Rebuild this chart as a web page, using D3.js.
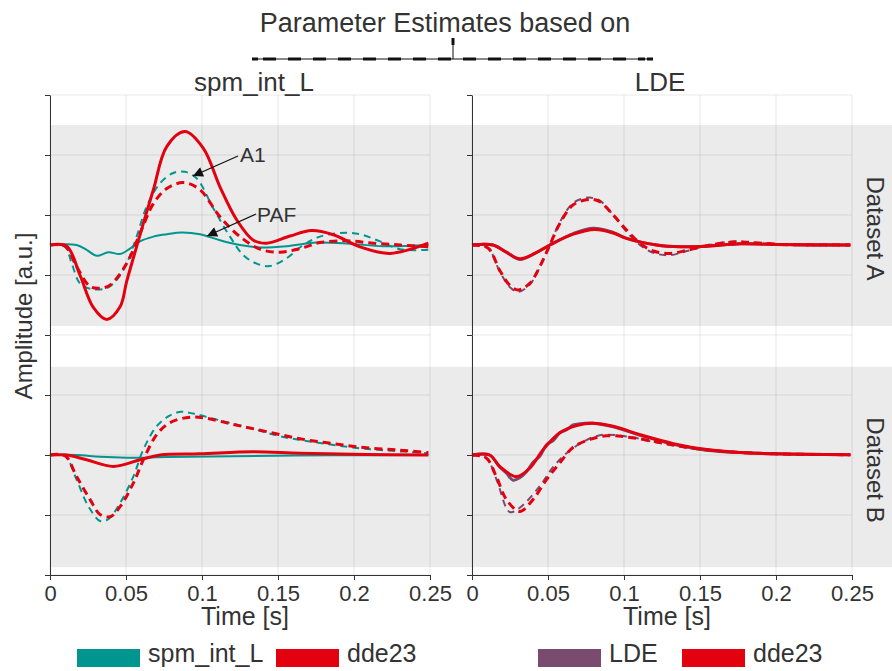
<!DOCTYPE html>
<html>
<head>
<meta charset="utf-8">
<script src="https://cdn.jsdelivr.net/npm/d3@7"></script>
<style>
  body { margin: 0; background: #fff; }
  svg { display: block; font-family: "Liberation Sans", Arial, sans-serif; }
</style>
</head>
<body>
<script>
// facets and ticks
const columns = ["spm_int_L", "LDE"];
const rows = ["Dataset A", "Dataset B"];
const timeTicks = [0, 0.05, 0.1, 0.15, 0.2, 0.25];
const ampTicksA = [-1.5, -0.5, 0.5, 1.5, 2.5];
const ampTicksB = [-2, -1, 0, 1];

// Dataset A, spm_int_L column: [time s, amplitude a.u.]
const aSpmPaf = [[0,0],[0.0175,0],[0.0241,-0.08],[0.0307,-0.18],[0.0384,-0.12],[0.0461,-0.15],[0.0526,-0.06],[0.0592,0.06],[0.068,0.14],[0.0768,0.18],[0.0866,0.21],[0.0987,0.18],[0.1118,0.08],[0.125,0],[0.1382,-0.04],[0.1557,-0.02],[0.1754,0.04],[0.1974,0.02],[0.2193,-0.02],[0.2489,0]];
const aSpmA1 = [[0,0],[0.0099,-0.03],[0.0143,-0.31],[0.0197,-0.64],[0.0263,-0.73],[0.0373,-0.72],[0.0439,-0.58],[0.0504,-0.31],[0.057,0.14],[0.0636,0.64],[0.0724,1.03],[0.0811,1.2],[0.0888,1.22],[0.0965,1.11],[0.1075,0.61],[0.1184,0.14],[0.1272,-0.17],[0.136,-0.31],[0.1447,-0.35],[0.1557,-0.22],[0.1667,0],[0.1776,0.14],[0.1908,0.2],[0.2039,0.18],[0.2171,0.06],[0.2303,-0.07],[0.2489,-0.08]];
const aSpmDdePaf = [[0,0],[0.011,-0.02],[0.0197,-0.5],[0.0285,-1.04],[0.0373,-1.24],[0.0461,-1.03],[0.0504,-0.61],[0.0548,-0.22],[0.0614,0.36],[0.068,0.92],[0.0768,1.64],[0.0888,1.89],[0.1009,1.61],[0.1118,0.97],[0.1228,0.42],[0.1338,0.08],[0.1425,0.03],[0.1579,0.15],[0.1721,0.24],[0.1864,0.17],[0.2039,-0.03],[0.2237,-0.14],[0.2489,0.03]];
const aSpmDdeA1 = [[0,0],[0.0099,-0.02],[0.0175,-0.36],[0.0263,-0.69],[0.0329,-0.72],[0.0395,-0.67],[0.0504,-0.31],[0.0592,0.19],[0.068,0.69],[0.0768,0.94],[0.0877,1.04],[0.0987,0.92],[0.1118,0.47],[0.125,0.14],[0.1382,-0.07],[0.1513,-0.12],[0.1645,-0.06],[0.1776,0.04],[0.1952,0.07],[0.2127,0.03],[0.2303,0],[0.2489,-0.03]];

// Dataset A, LDE column
const aLdePaf = [[0,0],[0.0138,0],[0.0226,-0.12],[0.0314,-0.24],[0.0413,-0.14],[0.0512,0],[0.0666,0.19],[0.0798,0.28],[0.0929,0.21],[0.1017,0.11],[0.1215,0],[0.1369,-0.03],[0.1545,-0.02],[0.1764,0.02],[0.1984,0.01],[0.2489,0]];
const aLdeA1 = [[0,0],[0.0105,-0.05],[0.0182,-0.44],[0.0248,-0.7],[0.0303,-0.78],[0.038,-0.66],[0.0446,-0.37],[0.0512,0],[0.0578,0.38],[0.0666,0.7],[0.0765,0.79],[0.0841,0.74],[0.0929,0.5],[0.1017,0.22],[0.1105,0],[0.1193,-0.13],[0.1303,-0.17],[0.1413,-0.1],[0.1545,-0.01],[0.172,0.06],[0.1852,0.04],[0.2028,0.01],[0.2204,-0.01],[0.2489,0]];
const aLdeDdePaf = [[0,0],[0.0138,0],[0.0226,-0.12],[0.0314,-0.23],[0.0413,-0.14],[0.0512,0],[0.0666,0.18],[0.0809,0.26],[0.0929,0.2],[0.1017,0.11],[0.1215,0],[0.1369,-0.03],[0.1545,-0.02],[0.1764,0.02],[0.1984,0.01],[0.2489,0]];
const aLdeDdeA1 = [[0,0],[0.0105,-0.05],[0.0182,-0.42],[0.0248,-0.67],[0.0303,-0.75],[0.038,-0.64],[0.0446,-0.36],[0.0512,0],[0.0578,0.36],[0.0666,0.67],[0.0776,0.76],[0.0841,0.72],[0.0929,0.5],[0.1017,0.25],[0.1105,0.03],[0.1193,-0.1],[0.1303,-0.14],[0.1413,-0.09],[0.1545,-0.01],[0.172,0.05],[0.1852,0.04],[0.2028,0.01],[0.2204,0],[0.2489,0]];

// Dataset B, spm_int_L column
const bSpmPaf = [[0,0],[0.0175,0],[0.0329,-0.03],[0.0504,-0.045],[0.0768,-0.035],[0.1206,-0.02],[0.1864,-0.005],[0.2489,0]];
const bSpmA1 = [[0,0],[0.0099,-0.02],[0.0175,-0.41],[0.0241,-0.8],[0.0329,-1.1],[0.0384,-1.07],[0.0461,-0.8],[0.0548,-0.36],[0.0614,0.09],[0.0702,0.48],[0.079,0.66],[0.0866,0.72],[0.0943,0.69],[0.1097,0.59],[0.1316,0.45],[0.1535,0.3],[0.1754,0.21],[0.1974,0.13],[0.2193,0.08],[0.2489,0.03]];
const bSpmDdePaf = [[0,0],[0.011,0],[0.0241,-0.08],[0.0417,-0.19],[0.0592,-0.08],[0.0724,0],[0.0987,0.02],[0.1338,0.055],[0.1645,0.03],[0.2083,0.01],[0.2489,0]];
const bSpmDdeA1 = [[0,0],[0.0099,-0.01],[0.0175,-0.36],[0.0263,-0.74],[0.0329,-0.99],[0.0395,-1.03],[0.0461,-0.86],[0.0548,-0.47],[0.0614,-0.08],[0.0702,0.34],[0.079,0.54],[0.0921,0.63],[0.1031,0.61],[0.1206,0.51],[0.1425,0.39],[0.1645,0.27],[0.1864,0.19],[0.2083,0.12],[0.2303,0.08],[0.2489,0.04]];

// Dataset B, LDE column
const bLdePaf = [[0,0],[0.0116,0],[0.0182,-0.2],[0.0226,-0.3],[0.027,-0.42],[0.0314,-0.38],[0.0358,-0.28],[0.0402,-0.12],[0.0446,-0.02],[0.049,0.17],[0.0534,0.24],[0.0578,0.37],[0.0622,0.42],[0.0666,0.5],[0.071,0.52],[0.0798,0.53],[0.0929,0.47],[0.1105,0.33],[0.1325,0.18],[0.1545,0.08],[0.1764,0.04],[0.1984,0.02],[0.2489,0.005]];
const bLdeA1 = [[0,0],[0.0094,-0.05],[0.016,-0.4],[0.0248,-0.95],[0.0314,-0.88],[0.0446,-0.52],[0.0534,-0.2],[0.0622,0.03],[0.0732,0.22],[0.0841,0.33],[0.1017,0.31],[0.1193,0.22],[0.1413,0.12],[0.1655,0.05],[0.1984,0.02],[0.2489,0.005]];
const bLdeDdePaf = [[0,0],[0.0116,0],[0.0182,-0.19],[0.0292,-0.36],[0.038,-0.22],[0.0468,0.09],[0.0578,0.37],[0.0688,0.49],[0.0797,0.53],[0.0929,0.48],[0.1105,0.34],[0.1325,0.19],[0.1545,0.09],[0.1764,0.04],[0.1984,0.02],[0.2489,0.005]];
const bLdeDdeA1 = [[0,0],[0.0094,-0.05],[0.016,-0.36],[0.0226,-0.74],[0.0314,-0.94],[0.0402,-0.74],[0.049,-0.41],[0.0578,-0.13],[0.0666,0.13],[0.0776,0.26],[0.0885,0.32],[0.1017,0.3],[0.1193,0.23],[0.1413,0.13],[0.1655,0.06],[0.1984,0.02],[0.2489,0.005]];

// grey strip extent for each row, in amplitude units
const bandA = [-1.35, 2];
const bandB = [-1.87, 1.47];

const colors = { spm: "#00958f", dde: "#e3000f", lde: "#7b4a6f" };
const width = 892, height = 671;
const ink = "#333";

const svg = d3.select("body").append("svg")
  .attr("width", width)
  .attr("height", height);

const xL = d3.scaleLinear().domain([0, 0.25]).range([50, 430]);
const xR = d3.scaleLinear().domain([0, 0.25]).range([472, 852]);
const yA = d3.scaleLinear().domain([-1.5, 2.5]).range([335, 95]);
const yB = d3.scaleLinear().domain([-2, 2]).range([575, 335]);

// grey row strips
svg.append("rect")
  .attr("x", xL(0)).attr("width", width - xL(0))
  .attr("y", yA(bandA[1])).attr("height", yA(bandA[0]) - yA(bandA[1]))
  .attr("fill", "#ebebeb");
svg.append("rect")
  .attr("x", xL(0)).attr("width", width - xL(0))
  .attr("y", yB(bandB[1])).attr("height", yB(bandB[0]) - yB(bandB[1]))
  .attr("fill", "#ebebeb");

// gridlines
const grid = svg.append("g").attr("stroke", "#000").attr("stroke-opacity", 0.09).attr("stroke-width", 1);
for (const x of [xL, xR]) {
  grid.selectAll(null).data(timeTicks).join("line")
    .attr("x1", d => x(d)).attr("x2", d => x(d))
    .attr("y1", yA.range()[1]).attr("y2", yB.range()[0]);
  for (const [y, t] of [[yA, ampTicksA], [yB, ampTicksB]]) {
    grid.selectAll(null).data(t).join("line")
      .attr("x1", x.range()[0]).attr("x2", x.range()[1])
      .attr("y1", d => y(d)).attr("y2", d => y(d));
  }
}

const panels = [
  { x: xL, y: yA, series: [
    { data: aSpmPaf, color: colors.spm, w: 2, dash: null },
    { data: aSpmA1, color: colors.spm, w: 2, dash: "7,5" },
    { data: aSpmDdeA1, color: colors.dde, w: 3, dash: "8,5" },
    { data: aSpmDdePaf, color: colors.dde, w: 3, dash: null } ] },
  { x: xR, y: yA, series: [
    { data: aLdePaf, color: colors.lde, w: 3, dash: null },
    { data: aLdeA1, color: colors.lde, w: 2, dash: "7,5" },
    { data: aLdeDdeA1, color: colors.dde, w: 3, dash: "8,5" },
    { data: aLdeDdePaf, color: colors.dde, w: 3, dash: null } ] },
  { x: xL, y: yB, series: [
    { data: bSpmPaf, color: colors.spm, w: 2, dash: null },
    { data: bSpmA1, color: colors.spm, w: 2, dash: "7,5" },
    { data: bSpmDdeA1, color: colors.dde, w: 3, dash: "8,5" },
    { data: bSpmDdePaf, color: colors.dde, w: 3, dash: null } ] },
  { x: xR, y: yB, series: [
    { data: bLdePaf, color: colors.lde, w: 3, dash: null },
    { data: bLdeA1, color: colors.lde, w: 2, dash: "7,5" },
    { data: bLdeDdeA1, color: colors.dde, w: 3, dash: "8,5" },
    { data: bLdeDdePaf, color: colors.dde, w: 3, dash: null } ] }
];

for (const p of panels) {
  const line = d3.line()
    .x(d => p.x(d[0]))
    .y(d => p.y(d[1]))
    .curve(d3.curveCatmullRom.alpha(0.5));
  svg.append("g").attr("fill", "none")
    .selectAll("path")
    .data(p.series)
    .join("path")
      .attr("d", d => line(d.data))
      .attr("stroke", d => d.color)
      .attr("stroke-width", d => d.w)
      .attr("stroke-dasharray", d => d.dash);
}

// axes
const fmt = d => String(+d.toFixed(2));
for (const x of [xL, xR]) {
  for (const [y, t] of [[yA, ampTicksA], [yB, ampTicksB]]) {
    const g = svg.append("g").attr("transform", `translate(${x.range()[0]},0)`)
      .call(d3.axisLeft(y).tickValues(t).tickFormat("").tickSize(5).tickSizeOuter(0));
    g.selectAll("path,line").attr("stroke", ink);
  }
  const gx = svg.append("g").attr("transform", `translate(0,${yB.range()[0]})`)
    .call(d3.axisBottom(x).tickValues(timeTicks).tickFormat(fmt).tickSize(5).tickSizeOuter(0).tickPadding(5));
  gx.selectAll("path,line").attr("stroke", ink);
  gx.selectAll("text").attr("font-size", 22).attr("fill", ink).attr("font-family", null);

  svg.append("text")
    .attr("x", (x.range()[0] + x.range()[1]) / 2 + 5)
    .attr("y", 625)
    .attr("text-anchor", "middle")
    .attr("font-size", 25).attr("fill", ink)
    .text("Time [s]");
}

svg.append("text")
  .attr("transform", "translate(32,316) rotate(-90)")
  .attr("text-anchor", "middle")
  .attr("font-size", 24).attr("fill", ink)
  .text("Amplitude [a.u.]");

// column titles
svg.selectAll(null).data(columns).join("text")
  .attr("x", (d, i) => i === 0 ? 254 : 660)
  .attr("y", 91)
  .attr("text-anchor", "middle")
  .attr("font-size", 26).attr("fill", ink)
  .text(d => d);

// row strip labels
svg.selectAll(null).data(rows).join("text")
  .attr("transform", (d, i) => {
    const y = i === 0 ? yA : yB;
    const band = i === 0 ? bandA : bandB;
    return `translate(867,${(y(band[0]) + y(band[1])) / 2 + 3}) rotate(90)`;
  })
  .attr("text-anchor", "middle")
  .attr("font-size", 24).attr("fill", ink)
  .text(d => d);

// super title and bracket
svg.append("text")
  .attr("x", 445).attr("y", 32)
  .attr("text-anchor", "middle")
  .attr("font-size", 27).attr("fill", ink)
  .text("Parameter Estimates based on");

const br = svg.append("g");
br.append("line").attr("x1", 253).attr("x2", 653).attr("y1", 59).attr("y2", 59)
  .attr("stroke", "#111").attr("stroke-width", 1);
br.append("line").attr("x1", 263).attr("x2", 645).attr("y1", 59).attr("y2", 59)
  .attr("stroke", "#111").attr("stroke-width", 3).attr("stroke-dasharray", "13,12");
br.append("rect").attr("x", 252).attr("y", 57.5).attr("width", 6).attr("height", 3).attr("fill", "#111");
br.append("rect").attr("x", 647).attr("y", 57.5).attr("width", 6).attr("height", 3).attr("fill", "#111");
br.append("line").attr("x1", 453).attr("x2", 453).attr("y1", 45).attr("y2", 59)
  .attr("stroke", "#111").attr("stroke-width", 1);
br.append("rect").attr("x", 451.5).attr("y", 38).attr("width", 3).attr("height", 7).attr("fill", "#111");

// annotations
svg.append("defs").append("marker")
  .attr("id", "arr").attr("viewBox", "0 0 10 10")
  .attr("refX", 10).attr("refY", 5)
  .attr("markerWidth", 11).attr("markerHeight", 10)
  .attr("markerUnits", "userSpaceOnUse")
  .attr("orient", "auto")
  .append("path").attr("d", "M0,0L10,5L0,10z").attr("fill", "#111");

const notes = [
  { label: "A1", tx: 240, ty: 162, from: [238, 156], to: [193, 176] },
  { label: "PAF", tx: 257, ty: 222, from: [256, 214], to: [207, 236] }
];
for (const n of notes) {
  svg.append("line")
    .attr("x1", n.from[0]).attr("y1", n.from[1])
    .attr("x2", n.to[0]).attr("y2", n.to[1])
    .attr("stroke", "#111").attr("stroke-width", 1.2)
    .attr("marker-end", "url(#arr)");
  svg.append("text")
    .attr("x", n.tx).attr("y", n.ty)
    .attr("font-size", 21).attr("fill", ink)
    .text(n.label);
}

// legends
const legends = [
  { x: 77, items: [["spm_int_L", colors.spm], ["dde23", colors.dde]], gap: 199 },
  { x: 538, items: [["LDE", colors.lde], ["dde23", colors.dde]], gap: 144 }
];
for (const lg of legends) {
  const g = svg.append("g").attr("transform", `translate(${lg.x},649)`);
  const item = g.selectAll("g").data(lg.items).join("g")
    .attr("transform", (d, i) => `translate(${i * lg.gap},0)`);
  item.append("rect").attr("width", 63).attr("height", 18).attr("fill", d => d[1]);
  item.append("text").attr("x", 71).attr("y", 13)
    .attr("font-size", 25).attr("fill", ink)
    .text(d => d[0]);
}
</script>
</body>
</html>
